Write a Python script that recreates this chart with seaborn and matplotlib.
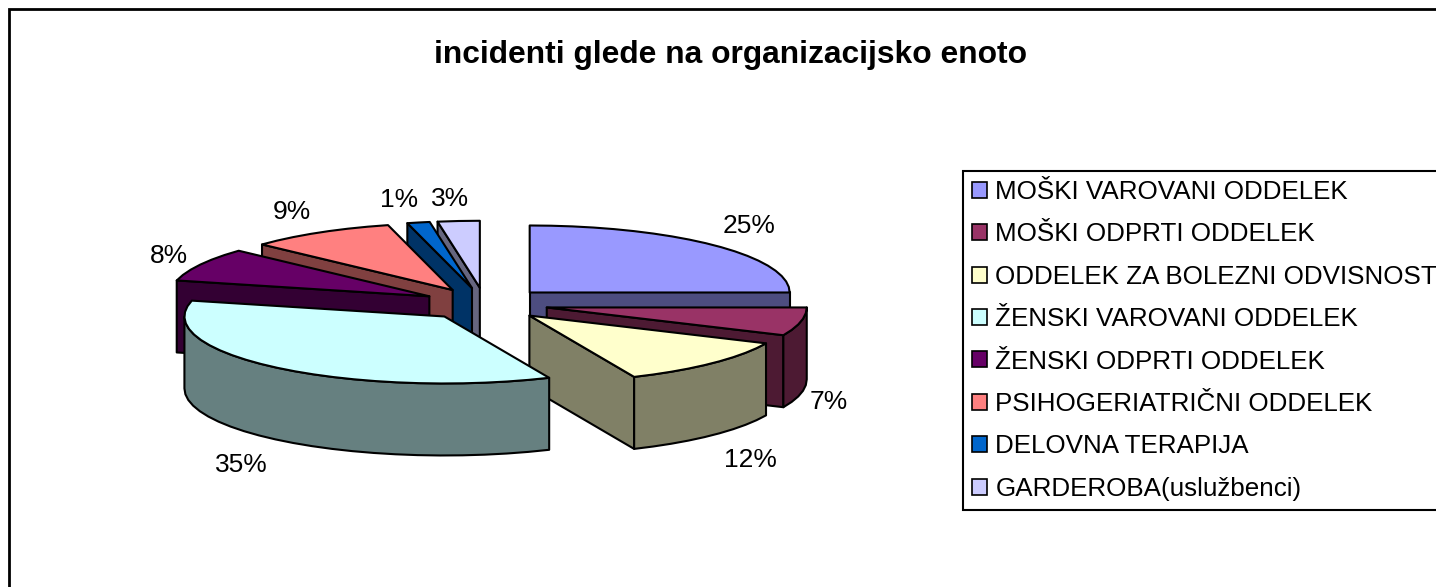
import numpy as np
import matplotlib
matplotlib.use("Agg")
import matplotlib.pyplot as plt
from matplotlib.patches import Patch
import seaborn as sns

# values (labels are the rounded shares)
units = ["MOŠKI VAROVANI ODDELEK", "MOŠKI ODPRTI ODDELEK", "ODDELEK ZA BOLEZNI ODVISNOSTI",
         "ŽENSKI VAROVANI ODDELEK", "ŽENSKI ODPRTI ODDELEK", "PSIHOGERIATRIČNI ODDELEK",
         "DELOVNA TERAPIJA", "GARDEROBA(uslužbenci)"]
shares = [25.0, 6.8, 11.6, 35.4, 8.1, 9.1, 1.4, 2.6]
colors = ["#9999FF", "#993366", "#FFFFCC", "#CCFFFF", "#660066", "#FF8080", "#0066CC", "#CCCCFF"]

# percent label positions in pixels
label_x = [749, 829, 750, 241, 169, 292, 399, 450]
label_y = [226, 402, 460, 465, 256, 212, 200, 199]

sns.set_theme(style="white")
plt.rcParams['font.family'] = ['Liberation Sans', 'DejaVu Sans']

# pie geometry in pixels
cx, cy = 485, 304
rx, ry = 260, 67
depth = 72
explode = 0.243
lw = 1.5

fig, ax = plt.subplots(figsize=(14.36, 5.87), dpi=100)
fig.subplots_adjust(0, 0, 1, 1)
ax.set_xlim(0, 1436)
ax.set_ylim(587, 0)
ax.axis("off")


def rim(x0, y0, a, b):
    # points along the rim, angles clockwise from 12 o'clock
    t = np.radians(np.linspace(a, b, max(2, int(abs(b - a) / 5) + 2)))
    return x0 + rx * np.sin(t), y0 - ry * np.cos(t)


def side(ax, xs, ys, col):
    # extrude a top edge downwards
    ax.fill(np.r_[xs, xs[::-1]], np.r_[ys, ys[::-1] + depth], facecolor=col,
            edgecolor="black", lw=lw, joinstyle="round")


bounds = np.r_[0, np.cumsum(shares)] / np.sum(shares) * 360

# back slices first, biggest front slice last
for i in [7, 6, 5, 4, 0, 1, 2, 3]:
    a, b = bounds[i], bounds[i + 1]
    mid = np.radians((a + b) / 2)
    x0 = cx + explode * rx * np.sin(mid)
    y0 = cy - explode * ry * np.cos(mid)
    top = np.array(sns.desaturate(colors[i], 1))
    dark = tuple(top * 0.5)

    # radial faces that look at the viewer
    if np.sin(np.radians(a)) < -1e-6:
        xs, ys = rim(x0, y0, a, a)
        side(ax, np.array([x0, xs[0]]), np.array([y0, ys[0]]), dark)
    if np.sin(np.radians(b)) > 1e-6:
        xs, ys = rim(x0, y0, b, b)
        side(ax, np.array([x0, xs[0]]), np.array([y0, ys[0]]), dark)

    # outer wall, front half only
    lo, hi = max(a, 90), min(b, 270)
    if hi > lo:
        xs, ys = rim(x0, y0, lo, hi)
        side(ax, xs, ys, dark)

    xs, ys = rim(x0, y0, a, b)
    ax.fill(np.r_[x0, xs], np.r_[y0, ys], facecolor=colors[i], edgecolor="black",
            lw=lw, joinstyle="round")

for s, x, y in zip(shares, label_x, label_y):
    ax.text(x, y, f"{s:.0f}%", fontsize=19, color="black", ha="center", va="center")

ax.text(730, 55, "incidenti glede na organizacijsko enoto", fontsize=22.9,
        fontweight="bold", color="black", ha="center", va="center")

# chart area border runs off the right and bottom of the image
ax.plot([9, 9, 1450], [600, 9, 9], color="black", lw=2, solid_joinstyle="miter", clip_on=False)

handles = [Patch(facecolor=c, edgecolor="black", lw=1.2, label=u) for c, u in zip(colors, units)]
leg = ax.legend(handles=handles, loc="upper left", bbox_to_anchor=(963, 171),
                bbox_transform=ax.transData, borderaxespad=0, fontsize=18.7,
                handlelength=0.57, handleheight=0.57, handletextpad=0.34,
                labelspacing=0.71, borderpad=0.34, fancybox=False, framealpha=1,
                edgecolor="black", labelcolor="black")
leg.get_frame().set_linewidth(1.5)

plt.savefig("out.png", dpi=100)
